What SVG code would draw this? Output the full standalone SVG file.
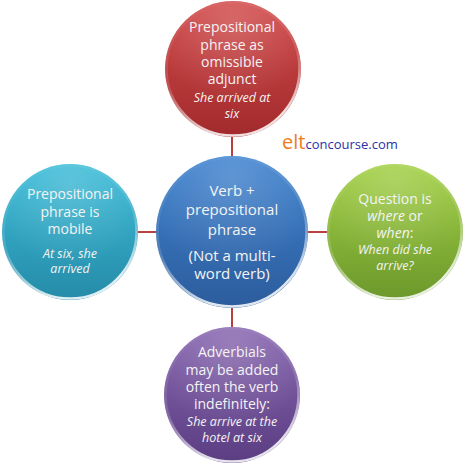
<svg xmlns="http://www.w3.org/2000/svg" width="465" height="466" viewBox="0 0 465 466">
<defs>
<linearGradient id="gRed" x1="0" y1="0" x2="0" y2="1"><stop offset="0" stop-color="#d24a4a"/><stop offset="1" stop-color="#a22a2c"/></linearGradient>
<linearGradient id="gBlue" x1="0" y1="0" x2="0" y2="1"><stop offset="0" stop-color="#3f83d0"/><stop offset="1" stop-color="#2c5c9c"/></linearGradient>
<linearGradient id="gCyan" x1="0" y1="0" x2="0" y2="1"><stop offset="0" stop-color="#3cbcd8"/><stop offset="1" stop-color="#258ba8"/></linearGradient>
<linearGradient id="gGreen" x1="0" y1="0" x2="0" y2="1"><stop offset="0" stop-color="#a2d044"/><stop offset="1" stop-color="#6b982b"/></linearGradient>
<linearGradient id="gPurple" x1="0" y1="0" x2="0" y2="1"><stop offset="0" stop-color="#8766b0"/><stop offset="1" stop-color="#5b3d82"/></linearGradient>
<linearGradient id="rim" x1="0" y1="0" x2="0.3" y2="1"><stop offset="0" stop-color="#ffffff" stop-opacity="0"/><stop offset="0.6" stop-color="#ffffff" stop-opacity="0.15"/><stop offset="1" stop-color="#ffffff" stop-opacity="0.85"/></linearGradient>
<radialGradient id="shine" cx="0.5" cy="0.15" r="0.6"><stop offset="0" stop-color="#ffffff" stop-opacity="0.18"/><stop offset="1" stop-color="#ffffff" stop-opacity="0"/></radialGradient>
</defs>
<style>
.rim{fill:none;stroke:url(#rim);stroke-width:2.5}
.shine{fill:url(#shine)}
.conn{stroke:#b8403e;stroke-width:2;fill:none}
text{font-family:"Open Sans","Liberation Sans",sans-serif;fill:#f4f4f4;text-anchor:middle}
.t{font-size:14px}
.tc{font-size:15px}
.i{font-size:12.5px;font-style:italic}
.ii{font-style:italic}
</style>
<g id="connectors">
<line class="conn" x1="232" y1="136" x2="232" y2="157"/>
<line class="conn" x1="232" y1="307" x2="232" y2="327"/>
<line class="conn" x1="137" y1="232" x2="157" y2="232"/>
<line class="conn" x1="307" y1="232" x2="328" y2="232"/>
</g>
<g id="node-top">
<circle cx="233" cy="69" r="68" fill="url(#gRed)"/>
<circle cx="233" cy="69" r="68" class="shine"/>
<circle cx="233" cy="69" r="66.5" class="rim"/>
<text class="t" x="232" y="32">Prepositional</text>
<text class="t" x="232" y="50">phrase as</text>
<text class="t" x="232" y="67">omissible</text>
<text class="t" x="232" y="84">adjunct</text>
<text class="i" x="232" y="102">She arrived at</text>
<text class="i" x="232" y="118">six</text>
</g>
<g id="node-center">
<circle cx="232" cy="232" r="76" fill="url(#gBlue)"/>
<circle cx="232" cy="232" r="76" class="shine"/>
<circle cx="232" cy="232" r="74.5" class="rim"/>
<text class="tc" x="232" y="196">Verb +</text>
<text class="tc" x="232" y="215">prepositional</text>
<text class="tc" x="232" y="235">phrase</text>
<text class="tc" x="232" y="261">(Not a multi-</text>
<text class="tc" x="232" y="279">word verb)</text>
</g>
<g id="node-left">
<circle cx="70" cy="232" r="68" fill="url(#gCyan)"/>
<circle cx="70" cy="232" r="68" class="shine"/>
<circle cx="70" cy="232" r="66.5" class="rim"/>
<text class="t" x="70" y="199">Prepositional</text>
<text class="t" x="70" y="217">phrase is</text>
<text class="t" x="70" y="234">mobile</text>
<text class="i" x="70" y="258">At six, she</text>
<text class="i" x="70" y="273">arrived</text>
</g>
<g id="node-right">
<circle cx="395" cy="232" r="68" fill="url(#gGreen)"/>
<circle cx="395" cy="232" r="68" class="shine"/>
<circle cx="395" cy="232" r="66.5" class="rim"/>
<text class="t" x="395" y="204">Question is</text>
<text class="t" x="395" y="221"><tspan class="ii">where</tspan> or</text>
<text class="t" x="395" y="238"><tspan class="ii">when</tspan>:</text>
<text class="i" x="395" y="254">When did she</text>
<text class="i" x="395" y="270">arrive?</text>
</g>
<g id="node-bottom">
<circle cx="232" cy="395" r="68" fill="url(#gPurple)"/>
<circle cx="232" cy="395" r="68" class="shine"/>
<circle cx="232" cy="395" r="66.5" class="rim"/>
<text class="t" x="232" y="357">Adverbials</text>
<text class="t" x="232" y="375">may be added</text>
<text class="t" x="232" y="392">often the verb</text>
<text class="t" x="232" y="409">indefinitely:</text>
<text class="i" x="232" y="426">She arrive at the</text>
<text class="i" x="232" y="442">hotel at six</text>
</g>
<g id="logo">
<text x="282" y="149" style="text-anchor:start"><tspan style="fill:#f07c1c;font-size:20px">elt</tspan><tspan style="fill:#2b2fa6;font-size:13px">concourse.com</tspan></text>
</g>
</svg>
